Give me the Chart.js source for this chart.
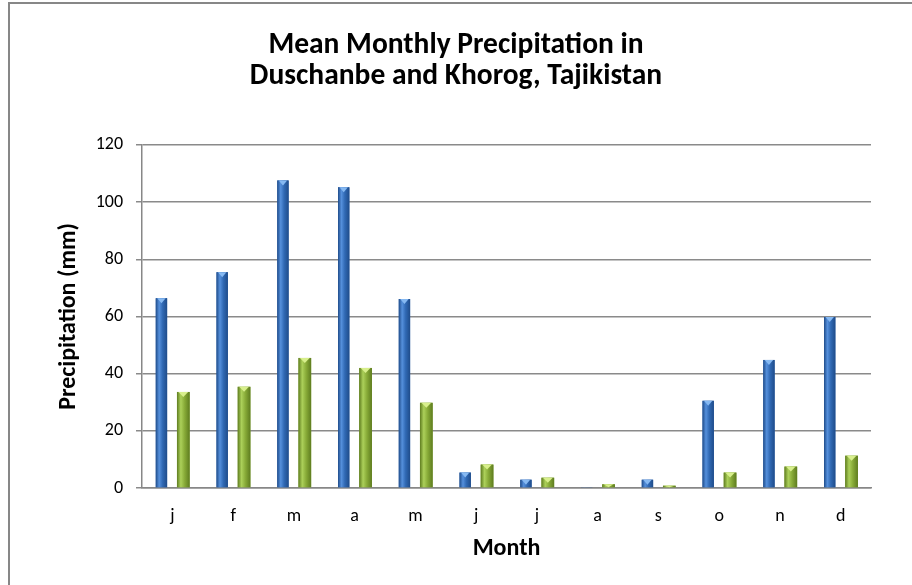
<!DOCTYPE html>
<html>
<head>
<meta charset="utf-8">
<script src="https://cdn.jsdelivr.net/npm/chart.js@4/dist/chart.umd.min.js"></script>
<style>
  html, body { margin: 0; padding: 0; background: #ffffff; }
  #wrap { position: relative; width: 912px; height: 585px; overflow: hidden; }
  #frame { position: absolute; left: 8px; top: 2px; width: 920px; height: 600px;
           border: 2px solid #878787; box-sizing: border-box; pointer-events: none; }
  canvas { position: absolute; left: 0; top: 0; }
</style>
</head>
<body>
<div id="wrap">
  <canvas id="chart" width="912" height="585"></canvas>
  <div id="frame"></div>
</div>
<script>
// Mean monthly precipitation (mm)
const months = ['j', 'f', 'm', 'a', 'm', 'j', 'j', 'a', 's', 'o', 'n', 'd'];
const duschanbe = [66.4, 75.5, 107.6, 105.2, 66.1, 5.4, 2.9, 0.3, 2.9, 30.5, 44.8, 59.8];
const khorog = [33.6, 35.4, 45.5, 42.0, 29.8, 8.2, 3.6, 1.3, 0.8, 5.4, 7.5, 11.3];
const yTicks = [0, 20, 40, 60, 80, 100, 120];

const titleLines = ['Mean Monthly Precipitation in', 'Duschanbe and Khorog, Tajikistan'];
const FONT = "Carlito, Calibri, Lato, 'Open Sans', sans-serif";

// Cylinder-like shading for each series: edge dark, highlight, mid tone, top cap
const shades = [
  { dark: '#1f4c8a', light: '#5590dc', mid: '#3069b4', cap: '#86b9f2' },
  { dark: '#5e7c1f', light: '#acd05a', mid: '#88ab38', cap: '#d8ef8c' }
];

const barShading = {
  id: 'barShading',
  afterDatasetsDraw(chart) {
    const ctx = chart.ctx;
    chart.data.datasets.forEach((ds, di) => {
      const meta = chart.getDatasetMeta(di);
      const s = shades[di];
      meta.data.forEach(bar => {
        const p = bar.getProps(['x', 'y', 'base', 'width'], true);
        const left = p.x - p.width / 2, right = p.x + p.width / 2;
        const top = Math.min(p.y, p.base), bottom = Math.max(p.y, p.base);
        const h = bottom - top;
        if (h <= 0) return;
        ctx.save();
        const g = ctx.createLinearGradient(left, 0, right, 0);
        g.addColorStop(0, s.dark);
        g.addColorStop(0.3, s.light);
        g.addColorStop(0.6, s.mid);
        g.addColorStop(1, s.dark);
        ctx.fillStyle = g;
        ctx.fillRect(left, top, p.width, h);
        // bevelled top cap
        const capH = Math.min(5, h);
        ctx.fillStyle = s.cap;
        ctx.beginPath();
        ctx.moveTo(left + 1.5, top);
        ctx.lineTo(right - 1.5, top);
        ctx.lineTo(p.x, top + capH);
        ctx.closePath();
        ctx.fill();
        ctx.restore();
      });
    });
  }
};

new Chart(document.getElementById('chart'), {
  type: 'bar',
  data: {
    labels: months,
    datasets: [
      { label: 'Duschanbe', data: duschanbe, backgroundColor: shades[0].mid,
        barPercentage: 0.52, categoryPercentage: 0.72 },
      { label: 'Khorog', data: khorog, backgroundColor: shades[1].mid,
        barPercentage: 0.58, categoryPercentage: 0.72 }
    ]
  },
  options: {
    responsive: false,
    animation: false,
    layout: { padding: 0 },
    plugins: {
      legend: { display: false },
      tooltip: { enabled: false },
      title: {
        display: true,
        text: titleLines,
        color: '#000000',
        font: { family: FONT, size: 29.5, weight: 'bold', lineHeight: 1.05 },
        padding: { top: 30, bottom: 53 }
      }
    },
    scales: {
      x: {
        afterFit(scale) { scale.height = 97; },
        grid: { display: false, drawTicks: false },
        border: { display: true, color: '#878787', width: 1.5 },
        ticks: { color: '#000000', font: { family: FONT, size: 18 }, padding: 18 },
        title: {
          display: true, text: 'Month', color: '#000000',
          font: { family: FONT, size: 24, weight: 'bold', lineHeight: 1.2 },
          padding: { top: 0, bottom: 22 }
        }
      },
      y: {
        min: 0, max: 120,
        afterBuildTicks(scale) { scale.ticks = yTicks.map(v => ({ value: v })); },
        afterFit(scale) { scale.width = 142; },
        grid: { color: '#8a8a8a', lineWidth: 1.5, tickLength: 6, drawTicks: true },
        border: { display: true, color: '#878787', width: 1.5 },
        ticks: { color: '#000000', font: { family: FONT, size: 18 }, padding: 13 },
        title: {
          display: true, text: 'Precipitation (mm)', color: '#000000',
          font: { family: FONT, size: 24, weight: 'bold', lineHeight: 1.2 },
          padding: { top: 55, bottom: 0 }
        }
      },
      // empty margin on the right of the plot area
      yRight: {
        position: 'right',
        afterFit(scale) { scale.width = 41; },
        grid: { display: false, drawTicks: false },
        border: { display: false },
        ticks: { display: false }
      }
    }
  },
  plugins: [barShading]
});
</script>
</body>
</html>
